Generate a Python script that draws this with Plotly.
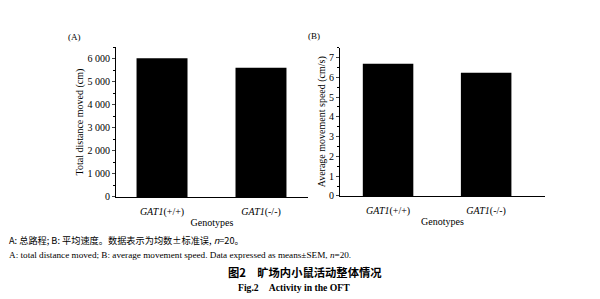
import plotly.graph_objects as go

# ---- data ----
genotypes = ["GAT1(+/+)", "GAT1(-/-)"]
genotype_labels = ["<i>GAT1</i>(+/+)", "<i>GAT1</i>(-/-)"]
distance_cm = [6010, 5600]
speed_cms = [6.68, 6.22]
dist_tickvals = [0, 1000, 2000, 3000, 4000, 5000, 6000]
dist_ticktext = ["0", "1 000", "2 000", "3 000", "4 000", "5 000", "6 000"]
speed_tickvals = [0, 1, 2, 3, 4, 5, 6, 7]

W, H = 600, 299
def px(x): return x / W
def py(y): return 1 - y / H

SERIF = "Liberation Serif, Times New Roman, serif"
CJK = "Noto Sans CJK SC"

fig = go.Figure()
fig.add_trace(go.Bar(x=[0, 1], y=distance_cm, width=0.515, marker=dict(color="black", line=dict(width=0)),
                     xaxis="x", yaxis="y", showlegend=False))
fig.add_trace(go.Bar(x=[0, 1], y=speed_cms, width=0.515, marker=dict(color="black", line=dict(width=0)),
                     xaxis="x2", yaxis="y2", showlegend=False))

axis_common = dict(showline=True, linecolor="black", linewidth=1, showgrid=False, zeroline=False,
                   tickfont=dict(family=SERIF, size=10, color="black"))
xaxis_ticks = dict(ticks="outside", ticklen=5, tickcolor="rgba(0,0,0,0)")

fig.update_layout(
    width=W, height=H, margin=dict(l=0, r=0, t=0, b=0),
    paper_bgcolor="white", plot_bgcolor="white",
    font=dict(family=SERIF, color="black"),
    xaxis=dict(domain=[px(116), px(308)], anchor="y", range=[-0.465, 1.475],
               tickvals=[0, 1], ticktext=genotype_labels, **xaxis_ticks, **axis_common,
               title=dict(text="Genotypes", font=dict(family=SERIF, size=10), standoff=2)),
    yaxis=dict(domain=[py(201), py(48)], anchor="x", range=[0, 6500],
               tickvals=dist_tickvals, ticktext=dist_ticktext, ticks="outside", ticklen=3,
               minor=dict(ticks="outside", ticklen=2, dtick=500, tick0=0, tickcolor="black"),
               **axis_common,
               title=dict(text="Total distance moved (cm)", font=dict(family=SERIF, size=10), standoff=1)),
    xaxis2=dict(domain=[px(340), px(545)], anchor="y2", range=[-0.49, 1.60],
                tickvals=[0, 1], ticktext=genotype_labels, **xaxis_ticks, **axis_common,
                title=dict(text="Genotypes", font=dict(family=SERIF, size=10), standoff=2)),
    yaxis2=dict(domain=[py(200), py(48.5)], anchor="x2", range=[0, 7.5],
                tickvals=speed_tickvals, ticks="outside", ticklen=3,
                minor=dict(ticks="outside", ticklen=2, dtick=0.5, tick0=0, tickcolor="black"),
                **axis_common,
                title=dict(text="Average movement speed (cm/s)", font=dict(family=SERIF, size=10), standoff=1)),
)

annotations = [
    dict(text="(A)", x=px(66), y=py(38), font=dict(family=SERIF, size=9)),
    dict(text="(B)", x=px(306), y=py(37), font=dict(family=SERIF, size=9)),
    dict(text="A: 总路程; B: 平均速度。数据表示为均数±标准误, <i>n</i>=20。", x=px(7), y=py(245),
         font=dict(family=CJK, size=9.2)),
    dict(text="A: total distance moved; B: average movement speed. Data expressed as means±SEM, <i>n</i>=20.",
         x=px(7), y=py(260), font=dict(family=SERIF, size=9.2)),
]
for a in annotations:
    a.update(xref="paper", yref="paper", xanchor="left", yanchor="middle", showarrow=False)
    fig.add_annotation(**a)

fig.add_annotation(text="<b>图2　旷场内小鼠活动整体情况</b>", x=px(305), y=py(278), xref="paper", yref="paper",
                   xanchor="center", yanchor="middle", showarrow=False, font=dict(family=CJK, size=11.3))
fig.add_annotation(text="<b>Fig.2　Activity in the OFT</b>", x=px(294), y=py(293), xref="paper", yref="paper",
                   xanchor="center", yanchor="middle", showarrow=False, font=dict(family=SERIF, size=9.7))

fig.write_html("out.html")
